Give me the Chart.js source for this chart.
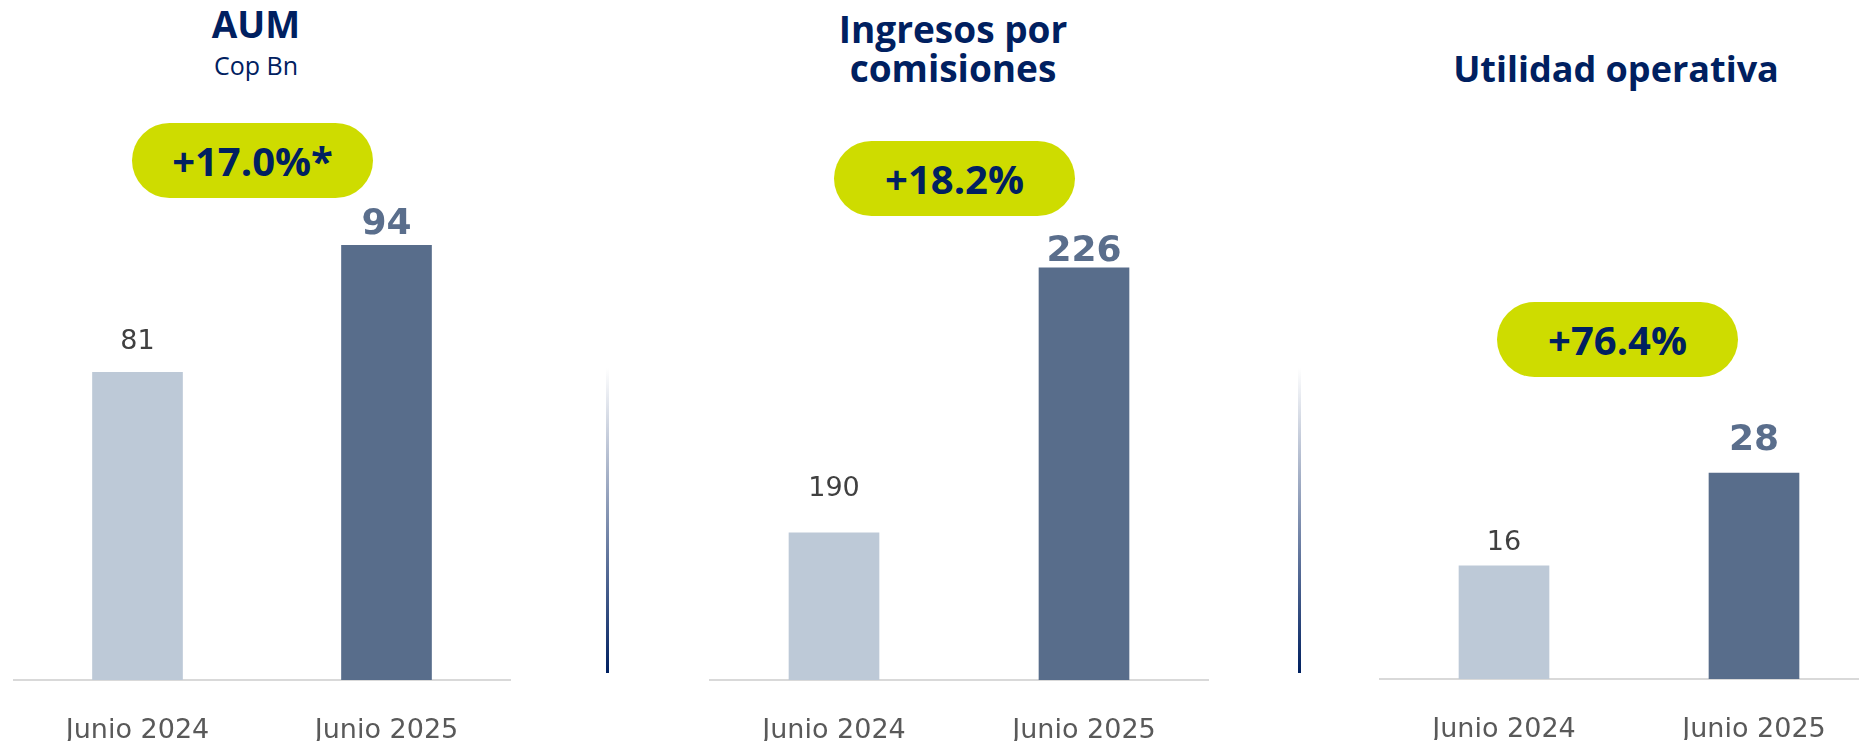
<!DOCTYPE html>
<html>
<head>
<meta charset="utf-8">
<title>AUM, ingresos y utilidad</title>
<script src="https://cdn.jsdelivr.net/npm/chart.js@4.4.1/dist/chart.umd.min.js"></script>
<style>
  body { margin: 0; width: 1859px; height: 741px; overflow: hidden; background: #fff; position: relative; }
  .title { position: absolute; width: 500px; text-align: center; color: #002060; font-family: 'Open Sans', sans-serif; font-weight: bold; font-size: 37px; }
  .sub { position: absolute; width: 500px; text-align: center; color: #002060; font-family: 'Open Sans', sans-serif; font-size: 25px; line-height: 30px; }
  .pill { position: absolute; width: 241px; height: 75px; border-radius: 38px; background: #cedc00; color: #002060;
          font-family: 'Open Sans', sans-serif; font-weight: bold; font-size: 40px; display: flex; align-items: center; justify-content: center; }
  .divider { position: absolute; width: 3px; background: linear-gradient(#ffffff, #002060); }
  canvas { position: absolute; }
</style>
</head>
<body>
<div class="title" style="left:6px; top:2px; line-height:44px;">AUM</div>
<div class="sub" style="left:6px; top:50px;">Cop Bn</div>
<div class="title" style="left:703px; top:9px; line-height:39px;">Ingresos por<br>comisiones</div>
<div class="title" style="left:1366px; top:47px; line-height:44px; font-size:36px;">Utilidad operativa</div>

<div class="pill" id="pill0" style="left:132px; top:123px;"></div>
<div class="pill" id="pill1" style="left:834px; top:141px;"></div>
<div class="pill" id="pill2" style="left:1497px; top:302px;"></div>

<div class="divider" style="left:606px; top:368px; height:305px;"></div>
<div class="divider" style="left:1298px; top:368px; height:305px;"></div>

<canvas id="c0" width="498" height="741" style="left:13px; top:0px;"></canvas>
<canvas id="c1" width="500" height="741" style="left:709px; top:0px;"></canvas>
<canvas id="c2" width="500" height="741" style="left:1379px; top:-1px;"></canvas>

<script>
// data
const periods = ['Junio 2024', 'Junio 2025'];
const aumValues = [81, 94];
const feeValues = [190, 226];
const opIncomeValues = [16, 28];
const growthLabels = ['+17.0%*', '+18.2%', '+76.4%'];

const barColors = ['#bdc9d7', '#586d8b'];

// each panel has its own (non-zero) baseline, like the slide
const panels = [
  { canvas: 'c0', values: aumValues, min: 49.5, max: 119.1, offsets: [30, 21] },
  { canvas: 'c1', values: feeValues, min: 170, max: 262.4, offsets: [44, 16] },
  { canvas: 'c2', values: opIncomeValues, min: 1.4, max: 89.2, offsets: [23, 32] }
];

growthLabels.forEach((txt, i) => {
  document.getElementById('pill' + i).textContent = txt;
});

const valueLabels = {
  id: 'valueLabels',
  afterDatasetsDraw(chart, args, opts) {
    const ctx = chart.ctx;
    const ds = chart.data.datasets[0];
    chart.getDatasetMeta(0).data.forEach((bar, i) => {
      ctx.save();
      if (i === 0) {
        ctx.font = '27px "DejaVu Sans"';
        ctx.fillStyle = '#404040';
      } else {
        ctx.font = 'bold 36px "DejaVu Sans"';
        ctx.fillStyle = '#5a6e8c';
      }
      ctx.textAlign = 'center';
      ctx.textBaseline = 'middle';
      ctx.fillText(ds.data[i], bar.x, bar.y - opts.offsets[i]);
      ctx.restore();
    });
  }
};

panels.forEach(p => {
  new Chart(document.getElementById(p.canvas), {
    type: 'bar',
    data: {
      labels: periods,
      datasets: [{
        data: p.values,
        backgroundColor: barColors,
        borderWidth: 0,
        barThickness: 90
      }]
    },
    options: {
      responsive: false,
      animation: false,
      devicePixelRatio: 1,
      layout: { padding: 0 },
      plugins: {
        legend: { display: false },
        tooltip: { enabled: false },
        valueLabels: { offsets: p.offsets }
      },
      scales: {
        x: {
          grid: { display: false, drawTicks: false },
          border: { display: true, color: '#d9d9d9', width: 2 },
          ticks: {
            color: '#595959',
            padding: 35,
            font: { family: 'DejaVu Sans', size: 27 }
          },
          afterFit: (scale) => { scale.height = 61; }
        },
        y: {
          display: false,
          min: p.min,
          max: p.max
        }
      }
    },
    plugins: [valueLabels]
  });
});
</script>
</body>
</html>
